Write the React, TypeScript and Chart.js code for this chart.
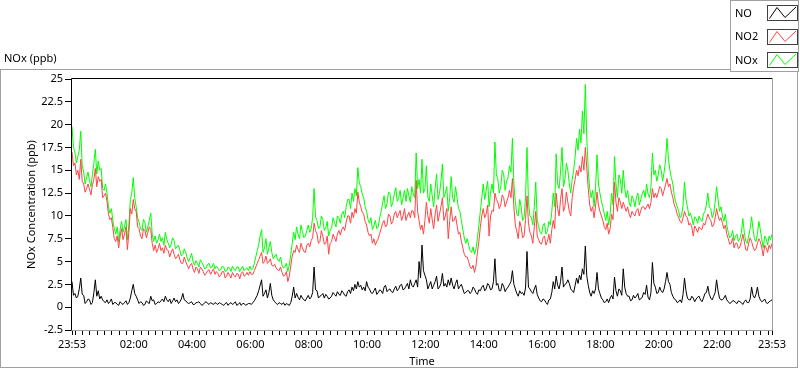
import React, { useEffect, useRef } from 'react';
import { Chart, registerables } from 'chart.js';

Chart.register(...registerables);

// ---- data (minutes since 23:53, sampled every 3 minutes; one row = one hour) ----
const STEP_MINUTES = 3;
const SPAN_MINUTES = 1440;

const MAJOR_TICK_MINUTES = [0, 127, 247, 367, 487, 607, 727, 847, 967, 1087, 1207, 1327, 1440];
const MAJOR_TICK_LABELS = ['23:53', '02:00', '04:00', '06:00', '08:00', '10:00', '12:00', '14:00', '16:00', '18:00', '20:00', '22:00', '23:53'];
const MINOR_TICK_FIRST = 7;
const MINOR_TICK_STEP = 15;
const Y_TICKS = [-2.5, 0, 2.5, 5, 7.5, 10, 12.5, 15, 17.5, 20, 22.5, 25];

const NO = [
  2.8, 1.3, 1.5, 1.0, 1.2, 2.0, 3.2, 1.4, 1.3, 0.4, 0.6, 0.9, 0.8, 0.3, 0.5, 1.6, 3.0, 1.2, 1.8, 0.9,
  1.2, 0.8, 0.6, 0.5, 0.8, 0.4, 0.6, 0.9, 0.3, 0.5, 0.5, 0.3, 0.2, 0.6, 0.4, 0.3, 0.5, 0.7, 0.3, 0.5,
  1.0, 1.8, 2.5, 1.5, 1.2, 0.8, 0.4, 0.6, 0.5, 0.2, 0.3, 0.7, 0.5, 0.4, 1.2, 0.7, 0.8, 0.3, 0.4, 0.6,
  0.5, 0.7, 0.9, 0.6, 1.2, 0.8, 0.6, 0.9, 0.4, 0.7, 1.0, 0.6, 0.8, 0.4, 0.6, 0.9, 1.5, 0.8, 0.7, 0.5,
  0.4, 0.5, 0.6, 0.3, 0.3, 0.5, 0.5, 0.6, 0.4, 0.2, 0.3, 0.5, 0.6, 0.4, 0.3, 0.5, 0.4, 0.3, 0.5, 0.4,
  0.3, 0.5, 0.4, 0.3, 0.2, 0.4, 0.5, 0.2, 0.4, 0.5, 0.3, 0.4, 0.6, 0.2, 0.3, 0.5, 0.2, 0.4, 0.4, 0.2,
  0.3, 0.4, 0.4, 0.3, 0.5, 0.7, 1.0, 1.3, 1.8, 2.4, 3.0, 1.2, 1.5, 1.9, 1.0, 1.6, 2.6, 1.3, 0.8, 0.6,
  0.4, 0.3, 0.5, 0.4, 0.3, 0.5, 0.2, 0.4, 0.3, 0.2, 0.5, 1.2, 2.2, 1.0, 1.5, 1.1, 0.8, 1.3, 1.0, 0.8,
  0.7, 1.0, 1.3, 0.9, 1.1, 1.6, 4.4, 1.9, 1.8, 1.0, 1.2, 1.3, 1.5, 1.0, 1.4, 1.2, 0.9, 1.0, 1.2, 1.6,
  1.4, 1.2, 1.7, 1.4, 1.3, 1.8, 1.6, 1.3, 1.2, 1.7, 1.9, 1.5, 2.2, 1.8, 2.5, 2.0, 2.8, 2.2, 2.4, 1.9,
  2.2, 1.8, 2.8, 2.2, 2.0, 1.6, 1.5, 1.8, 2.1, 1.4, 1.6, 1.9, 1.8, 1.5, 2.2, 2.4, 1.7, 1.9, 2.0, 1.7,
  1.6, 2.0, 2.3, 1.8, 2.0, 2.4, 2.5, 1.9, 2.0, 2.3, 2.6, 2.0, 3.0, 2.4, 2.2, 2.6, 3.0, 2.2, 5.0, 3.2,
  6.8, 4.0, 3.5, 3.0, 2.0, 2.4, 2.8, 2.0, 2.4, 2.8, 3.4, 2.0, 2.2, 2.6, 3.7, 2.3, 2.6, 2.2, 3.0, 2.4,
  3.2, 2.4, 2.0, 2.6, 3.0, 2.0, 2.3, 2.5, 2.0, 1.5, 1.6, 1.8, 1.8, 1.5, 1.7, 2.2, 2.0, 1.6, 1.4, 1.9,
  1.8, 2.2, 2.4, 1.8, 2.0, 2.6, 2.4, 1.9, 2.0, 2.8, 5.3, 2.4, 2.6, 1.8, 1.8, 2.6, 2.3, 1.7, 2.0, 2.2,
  2.5, 2.8, 4.0, 2.5, 2.0, 1.5, 1.2, 1.8, 1.5, 1.6, 1.3, 2.1, 6.1, 2.2, 2.0, 1.7, 1.5, 2.0, 2.4, 1.4,
  1.0, 0.7, 0.6, 0.9, 0.8, 0.5, 0.3, 0.8, 0.9, 1.6, 2.8, 2.0, 3.4, 2.4, 2.0, 2.8, 4.4, 2.2, 2.5, 2.6,
  3.0, 2.6, 2.0, 1.8, 1.6, 2.4, 3.2, 2.6, 3.5, 3.0, 4.2, 3.6, 6.7, 3.4, 2.4, 1.6, 1.2, 1.8, 1.5, 2.0,
  3.8, 2.0, 1.5, 1.0, 0.8, 0.5, 0.6, 0.9, 0.5, 1.0, 1.3, 0.9, 3.3, 1.8, 1.2, 2.0, 1.8, 1.3, 4.2, 2.2,
  1.5, 1.2, 1.2, 0.7, 0.8, 1.3, 1.0, 1.2, 1.5, 0.8, 0.9, 1.1, 1.6, 1.4, 2.4, 1.1, 0.8, 1.6, 4.9, 2.6,
  2.2, 1.5, 1.6, 2.2, 1.8, 1.6, 2.0, 2.8, 3.8, 2.8, 2.5, 1.6, 1.2, 0.9, 0.8, 0.5, 0.6, 0.8, 0.5, 1.4,
  3.2, 1.8, 1.0, 0.8, 0.8, 1.2, 1.0, 0.6, 0.9, 1.1, 1.2, 0.8, 0.6, 1.0, 1.5, 1.6, 2.3, 1.4, 1.0, 0.8,
  1.2, 1.6, 3.0, 1.8, 1.0, 0.8, 0.8, 1.0, 1.3, 0.8, 0.6, 0.4, 0.5, 0.7, 0.7, 0.5, 0.4, 0.7, 0.6, 0.5,
  0.3, 0.6, 0.8, 0.5, 0.5, 0.9, 2.2, 1.3, 1.0, 1.4, 2.2, 1.2, 0.8, 0.6, 0.7, 0.9, 0.5, 0.4, 0.6, 0.7,
  0.8,
];

const NO2 = [
  17.0, 15.5, 15.8, 14.5, 15.0, 14.0, 16.2, 13.8, 13.5, 12.6, 13.0, 13.5, 12.9, 12.3, 13.4, 14.0, 15.2, 13.2, 14.3, 13.8,
  14.0, 12.0, 12.2, 12.5, 11.6, 10.2, 9.6, 9.8, 8.7, 7.5, 7.2, 7.8, 6.5, 7.8, 8.6, 7.4, 8.0, 8.8, 6.3, 8.2,
  10.8, 10.2, 11.8, 10.8, 10.5, 8.8, 8.6, 7.8, 7.5, 8.6, 8.4, 7.6, 8.2, 8.8, 8.5, 7.0, 6.2, 6.8, 6.0, 6.4,
  7.0, 6.2, 6.5, 5.9, 6.8, 6.3, 6.2, 5.5, 6.0, 6.4, 5.8, 5.3, 5.5, 5.8, 5.2, 4.8, 4.8, 5.5, 5.0, 4.6,
  4.2, 4.6, 4.8, 4.2, 3.8, 4.4, 4.2, 3.7, 4.4, 4.2, 3.9, 3.5, 3.7, 4.0, 4.1, 3.6, 3.9, 4.2, 3.6, 3.9,
  3.7, 3.3, 3.5, 3.9, 3.9, 3.2, 3.4, 3.8, 3.5, 3.2, 3.8, 3.5, 3.3, 3.7, 3.6, 3.1, 3.7, 3.9, 3.4, 3.5,
  3.8, 3.5, 3.9, 3.6, 3.6, 4.0, 4.4, 4.8, 5.2, 5.6, 6.0, 4.8, 5.0, 5.6, 4.8, 5.0, 5.3, 4.6, 4.5, 4.7,
  4.3, 4.1, 4.0, 4.4, 3.8, 3.4, 3.5, 3.9, 2.8, 3.4, 4.5, 5.6, 6.2, 6.0, 6.8, 6.3, 6.0, 7.0, 6.5, 6.1,
  6.0, 6.8, 7.0, 6.6, 7.3, 7.6, 9.2, 8.4, 8.0, 7.0, 7.2, 8.4, 7.8, 6.9, 7.0, 7.8, 5.8, 7.0, 7.2, 8.0,
  7.6, 7.2, 8.0, 8.4, 7.9, 8.5, 8.8, 8.4, 9.3, 10.0, 10.0, 9.2, 10.4, 9.8, 10.8, 10.3, 12.6, 11.5, 11.0, 10.4,
  10.2, 9.4, 9.0, 8.2, 7.8, 8.0, 7.0, 7.5, 6.8, 7.2, 7.5, 8.1, 8.6, 9.2, 9.5, 8.8, 9.0, 10.2, 10.0, 9.1,
  9.4, 10.2, 10.5, 9.8, 10.2, 10.6, 9.5, 10.0, 10.8, 9.5, 10.0, 10.4, 9.8, 10.6, 10.5, 9.8, 13.9, 10.5, 9.5, 8.5,
  9.0, 8.0, 9.5, 11.5, 10.0, 9.2, 10.8, 9.6, 8.6, 10.2, 11.2, 9.4, 10.2, 11.0, 12.0, 9.5, 10.0, 10.8, 7.5, 9.5,
  11.0, 9.4, 9.5, 10.0, 9.0, 8.0, 8.2, 7.2, 6.5, 5.8, 5.5, 5.5, 5.0, 4.4, 4.2, 4.6, 3.8, 4.5, 6.0, 7.2,
  8.8, 10.0, 10.8, 9.8, 10.2, 11.2, 7.8, 10.0, 10.6, 10.5, 12.5, 11.8, 11.5, 10.8, 11.2, 12.3, 12.0, 11.0, 11.5, 12.0,
  12.8, 12.0, 14.1, 11.0, 9.0, 8.3, 7.5, 9.4, 8.8, 7.6, 7.8, 9.6, 12.2, 9.2, 8.2, 7.8, 7.0, 8.8, 10.5, 7.8,
  7.4, 7.0, 6.9, 7.6, 7.8, 6.8, 7.2, 8.0, 7.0, 8.5, 9.5, 8.6, 12.5, 10.8, 10.0, 11.8, 13.0, 10.5, 11.0, 12.6,
  11.5, 10.5, 10.0, 12.0, 13.2, 14.0, 15.0, 14.4, 15.5, 14.8, 16.5, 15.0, 17.5, 15.2, 13.0, 11.2, 10.5, 11.0, 9.8, 11.0,
  12.6, 11.2, 10.5, 10.0, 9.5, 8.8, 8.5, 9.2, 8.0, 8.6, 10.2, 9.6, 13.7, 11.5, 10.5, 12.0, 11.5, 10.8, 11.5, 11.0,
  10.5, 11.0, 10.2, 9.8, 10.5, 10.2, 10.0, 10.6, 10.8, 10.0, 10.6, 11.0, 11.0, 10.7, 11.0, 11.3, 10.8, 11.5, 13.0, 12.0,
  12.5, 12.0, 12.6, 13.2, 13.0, 12.2, 12.8, 13.4, 14.1, 13.2, 13.5, 12.6, 12.0, 11.2, 10.8, 10.2, 9.8, 9.4, 9.2, 9.8,
  10.5, 10.0, 9.8, 9.0, 9.2, 8.8, 7.8, 8.9, 8.6, 8.2, 8.8, 8.6, 8.5, 9.2, 9.0, 9.6, 10.2, 9.8, 9.5, 8.8,
  9.0, 9.8, 10.8, 10.0, 9.5, 9.8, 9.2, 8.6, 9.0, 8.0, 7.5, 6.9, 7.0, 7.6, 6.5, 7.0, 7.0, 6.4, 6.6, 7.2,
  8.0, 7.2, 6.3, 6.2, 7.0, 7.6, 7.2, 6.6, 6.2, 6.4, 7.0, 7.5, 7.2, 6.5, 5.6, 6.8, 6.5, 6.0, 6.8, 6.4,
  7.0,
];

const NOX = [
  19.8, 17.5, 17.0, 15.8, 16.5, 17.2, 19.3, 15.5, 14.8, 13.5, 14.2, 14.8, 13.8, 13.2, 14.5, 15.8, 17.3, 14.6, 16.0, 15.0,
  15.2, 13.0, 12.8, 13.5, 12.5, 11.0, 10.3, 10.8, 9.5, 8.6, 8.0, 8.8, 7.2, 8.5, 9.4, 8.2, 8.8, 9.6, 7.4, 9.0,
  11.8, 12.5, 14.2, 12.0, 11.0, 9.8, 9.3, 8.6, 8.4, 9.6, 9.3, 8.2, 8.8, 9.5, 10.3, 8.0, 7.2, 7.8, 7.0, 7.4,
  8.0, 7.2, 7.6, 6.8, 8.2, 7.4, 7.0, 6.5, 6.9, 7.6, 7.3, 6.4, 6.6, 6.8, 6.2, 5.6, 5.8, 6.4, 6.0, 5.4,
  5.0, 5.4, 5.9, 5.0, 4.6, 5.1, 4.8, 4.4, 5.2, 4.9, 4.6, 4.2, 4.3, 4.7, 4.8, 4.3, 4.4, 4.8, 4.2, 4.5,
  4.3, 4.0, 4.1, 4.5, 4.4, 3.9, 4.0, 4.4, 4.3, 3.9, 4.5, 4.2, 4.0, 4.4, 4.4, 3.9, 4.2, 4.5, 4.0, 4.2,
  4.3, 4.0, 4.5, 4.1, 4.2, 4.8, 5.5, 6.2, 6.8, 7.8, 8.5, 6.0, 6.5, 7.5, 5.8, 6.5, 7.2, 6.0, 5.3, 5.6,
  5.8, 5.2, 5.0, 5.5, 4.6, 4.3, 4.4, 4.8, 3.9, 4.6, 5.8, 7.0, 8.2, 7.4, 8.8, 8.0, 7.5, 9.0, 8.3, 7.6,
  7.8, 8.4, 9.0, 8.2, 8.6, 9.8, 13.0, 9.9, 9.5, 8.6, 8.8, 10.0, 9.6, 8.4, 8.7, 9.4, 7.8, 8.4, 8.7, 9.8,
  9.3, 8.8, 10.0, 9.8, 9.2, 10.2, 10.5, 9.8, 11.0, 11.8, 11.8, 10.8, 12.5, 11.6, 13.0, 12.2, 15.3, 13.6, 13.2, 12.4,
  12.0, 11.0, 10.5, 9.6, 9.2, 9.8, 8.5, 8.9, 9.5, 8.6, 8.8, 9.8, 10.5, 11.4, 12.2, 10.8, 11.3, 12.6, 12.5, 11.0,
  11.5, 12.4, 13.1, 11.6, 12.0, 12.8, 11.2, 12.0, 12.8, 11.6, 13.0, 12.2, 11.5, 13.2, 12.4, 12.0, 16.9, 13.0, 14.0, 12.5,
  16.2, 12.5, 13.0, 15.5, 12.0, 11.6, 13.5, 12.2, 11.0, 13.0, 14.6, 11.8, 12.5, 13.8, 15.7, 12.0, 12.5, 13.2, 10.5, 12.0,
  14.3, 12.0, 11.5, 13.2, 12.0, 10.8, 10.5, 9.5, 8.5, 7.6, 7.0, 7.5, 6.8, 6.2, 6.0, 6.6, 5.8, 6.4, 7.5, 9.0,
  10.5, 12.0, 13.5, 11.8, 12.8, 13.8, 11.0, 12.6, 13.5, 12.5, 18.1, 14.5, 14.0, 12.5, 13.2, 15.0, 14.6, 12.8, 13.8, 14.2,
  15.5, 14.8, 18.5, 13.5, 11.5, 10.2, 10.0, 11.8, 11.0, 9.5, 9.8, 12.0, 17.5, 11.5, 10.0, 9.8, 9.0, 11.0, 13.7, 9.6,
  8.8, 8.2, 8.0, 9.0, 9.2, 8.0, 8.3, 9.4, 9.0, 10.5, 12.5, 11.0, 16.8, 13.5, 13.0, 14.8, 17.5, 13.2, 14.0, 15.8,
  15.0, 13.5, 12.5, 14.0, 15.0, 16.5, 18.5, 17.2, 19.5, 18.0, 21.5, 19.0, 24.4, 18.5, 15.0, 13.0, 12.0, 12.8, 11.0, 13.0,
  16.7, 13.5, 12.5, 11.6, 11.0, 10.2, 9.5, 10.5, 9.0, 10.2, 12.5, 11.2, 16.5, 13.5, 12.0, 14.5, 14.0, 12.5, 15.0, 13.0,
  12.0, 12.8, 11.5, 11.0, 12.2, 11.8, 11.0, 12.0, 12.5, 11.2, 11.8, 12.4, 12.8, 12.0, 13.5, 12.4, 12.0, 13.2, 16.9, 14.5,
  15.0, 13.8, 14.5, 15.6, 15.0, 13.8, 14.8, 16.0, 18.5, 16.2, 15.0, 14.2, 13.5, 12.2, 11.5, 11.0, 10.5, 9.8, 10.0, 11.2,
  13.7, 11.8, 11.0, 10.0, 10.3, 9.8, 9.0, 9.9, 9.7, 9.2, 10.0, 9.6, 9.4, 10.2, 10.5, 11.2, 12.5, 11.0, 10.8, 9.8,
  10.2, 11.5, 13.2, 11.8, 10.5, 11.0, 10.0, 9.4, 10.2, 9.0, 8.2, 7.6, 7.8, 8.4, 7.3, 7.8, 8.0, 7.2, 7.5, 8.2,
  9.7, 8.2, 7.2, 7.0, 7.8, 8.6, 9.9, 8.5, 7.5, 7.2, 8.0, 9.4, 8.5, 7.4, 6.5, 7.8, 7.5, 6.8, 7.8, 7.4,
  8.0,
];

const SERIES_LABELS = ['NO', 'NO2', 'NOx'];
const SERIES_COLORS = ['#000000', '#ff4444', '#00ff00'];

const FONT = '"Noto Sans", "DejaVu Sans", sans-serif';

const toPoints = (arr: number[]) => arr.map((v, i) => ({ x: i * STEP_MINUTES, y: v }));

const allXTicks = (): number[] => {
  const set = new Set<number>(MAJOR_TICK_MINUTES);
  for (let m = MINOR_TICK_FIRST; m < SPAN_MINUTES; m += MINOR_TICK_STEP) set.add(m);
  return Array.from(set).sort((a, b) => a - b);
};

const decorPlugin = {
  id: 'decor',
  beforeDraw(chart: any) {
    const { ctx, width, height } = chart;
    ctx.save();
    ctx.fillStyle = '#ffffff';
    ctx.fillRect(0, 0, width, height);
    ctx.strokeStyle = '#a0a0a0';
    ctx.lineWidth = 1;
    ctx.strokeRect(0.5, 69.5, 797, 298);
    ctx.fillStyle = '#000000';
    ctx.font = '11px ' + FONT;
    ctx.textBaseline = 'middle';
    ctx.textAlign = 'left';
    ctx.fillText('NOx (ppb)', 4, 59);
    ctx.restore();
  },
  afterDraw(chart: any) {
    const { ctx, chartArea: a } = chart;
    ctx.save();
    ctx.lineWidth = 1;
    // plot frame (inset look)
    ctx.strokeStyle = '#000000';
    ctx.beginPath();
    ctx.moveTo(a.left - 0.5, a.bottom + 0.5);
    ctx.lineTo(a.left - 0.5, a.top - 0.5);
    ctx.lineTo(a.right + 0.5, a.top - 0.5);
    ctx.stroke();
    ctx.strokeStyle = '#a0a0a0';
    ctx.beginPath();
    ctx.moveTo(a.right + 0.5, a.top - 0.5);
    ctx.lineTo(a.right + 0.5, a.bottom + 0.5);
    ctx.lineTo(a.left - 0.5, a.bottom + 0.5);
    ctx.stroke();

    // legend box
    ctx.fillStyle = '#ffffff';
    ctx.fillRect(730, 0, 70, 72);
    ctx.strokeStyle = '#a0a0a0';
    ctx.strokeRect(730.5, 0.5, 68, 71);
    ctx.font = '11px ' + FONT;
    ctx.textAlign = 'left';
    ctx.textBaseline = 'middle';
    chart.data.datasets.forEach((ds: any, i: number) => {
      const top = 5 + i * 23.7;
      ctx.fillStyle = '#000000';
      ctx.fillText(ds.label, 735, top + 8.5);
      ctx.fillStyle = '#ffffff';
      ctx.fillRect(767, top, 31, 15);
      ctx.strokeStyle = '#404040';
      ctx.strokeRect(767.5, Math.round(top) + 0.5, 30, 15);
      ctx.strokeStyle = ds.borderColor;
      ctx.beginPath();
      const ty = Math.round(top);
      ctx.moveTo(769.5, ty + 13.5);
      ctx.lineTo(777, ty + 2.5);
      ctx.lineTo(785, ty + 12.5);
      ctx.lineTo(796, ty + 2);
      ctx.stroke();
    });
    ctx.restore();
  },
};

export default function App() {
  const canvasRef = useRef<HTMLCanvasElement | null>(null);

  useEffect(() => {
    if (!canvasRef.current) return;
    const chart = new Chart(canvasRef.current, {
      type: 'line',
      data: {
        datasets: [
          { label: SERIES_LABELS[0], data: toPoints(NO), borderColor: SERIES_COLORS[0], backgroundColor: SERIES_COLORS[0], borderWidth: 1, pointRadius: 0, tension: 0, order: 0 },
          { label: SERIES_LABELS[1], data: toPoints(NO2), borderColor: SERIES_COLORS[1], backgroundColor: SERIES_COLORS[1], borderWidth: 1, pointRadius: 0, tension: 0, order: 1 },
          { label: SERIES_LABELS[2], data: toPoints(NOX), borderColor: SERIES_COLORS[2], backgroundColor: SERIES_COLORS[2], borderWidth: 1, pointRadius: 0, tension: 0, order: 2 },
        ],
      },
      options: {
        animation: false,
        responsive: false,
        devicePixelRatio: 1,
        parsing: false as any,
        layout: { padding: { left: 0, right: 28, top: 79, bottom: 0 } },
        font: { family: FONT, size: 11 } as any,
        plugins: {
          legend: { display: false },
          tooltip: { enabled: false },
          title: { display: false },
        },
        scales: {
          x: {
            type: 'linear',
            min: 0,
            max: SPAN_MINUTES,
            afterBuildTicks: (scale: any) => {
              scale.ticks = allXTicks().map((v) => ({ value: v }));
            },
            afterFit: (scale: any) => {
              scale.height = 39;
            },
            border: { display: false },
            grid: { display: true, drawOnChartArea: false, drawTicks: true, tickLength: 5, tickColor: '#000000' },
            ticks: {
              autoSkip: false,
              maxRotation: 0,
              minRotation: 0,
              padding: 3,
              color: '#000000',
              font: { family: FONT, size: 11 },
              callback: (value: any) => {
                const idx = MAJOR_TICK_MINUTES.indexOf(Number(value));
                return idx >= 0 ? MAJOR_TICK_LABELS[idx] : '';
              },
            },
            title: {
              display: true,
              text: 'Time',
              color: '#000000',
              font: { family: FONT, size: 11 },
              padding: { top: 0, bottom: 1 },
            },
          },
          y: {
            type: 'linear',
            min: -2.5,
            max: 25,
            afterBuildTicks: (scale: any) => {
              scale.ticks = Y_TICKS.map((v) => ({ value: v }));
            },
            afterFit: (scale: any) => {
              scale.width = 72;
            },
            border: { display: false },
            grid: { display: true, drawOnChartArea: false, drawTicks: true, tickLength: 7, tickColor: '#000000' },
            ticks: {
              padding: 2,
              color: '#000000',
              font: { family: FONT, size: 11 },
              callback: (value: any) => String(value),
            },
            title: {
              display: true,
              text: 'NOx Concentration (ppb)',
              color: '#000000',
              font: { family: FONT, size: 11 },
              padding: { top: 25, bottom: 0 },
            },
          },
        },
      },
      plugins: [decorPlugin],
    });
    return () => chart.destroy();
  }, []);

  return (
    <div style={{ position: 'fixed', left: 0, top: 0, width: 800, height: 369, background: '#fff' }}>
      <canvas ref={canvasRef} width={800} height={369} style={{ display: 'block', width: 800, height: 369 }} />
    </div>
  );
}
